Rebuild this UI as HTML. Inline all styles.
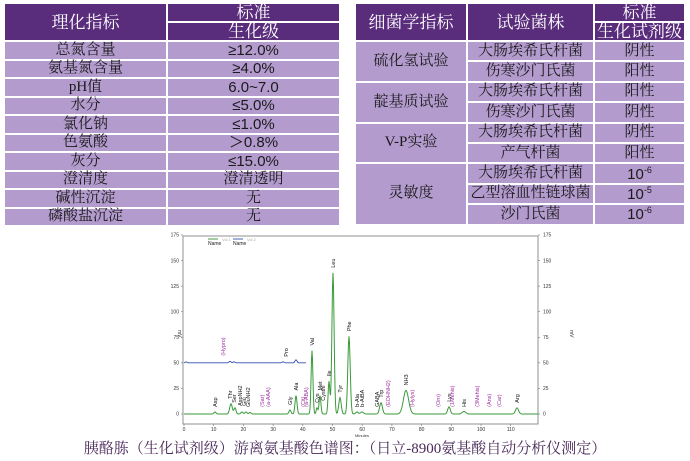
<!DOCTYPE html>
<html><head><meta charset="utf-8"><style>
body{margin:0;width:690px;height:461px;background:#fff;position:relative;overflow:hidden;font-family:"Liberation Serif","Noto Serif CJK SC",serif}
table{position:absolute;border-collapse:collapse;table-layout:fixed}
td{border:2px solid #fff;text-align:center;padding:0;color:#1a1a1a;font-size:15px;line-height:1}
td.h{background:#5a2c7c;color:#fff;font-size:17px}
td.b{background:#b49bce}
.n{font-family:"Liberation Sans","Noto Sans CJK SC",sans-serif;font-size:15px}
sup{font-size:9px;vertical-align:6px}
</style></head><body>
<table style="left:3px;top:2px;width:338px">
<colgroup><col style="width:163px"><col></colgroup>
<tr style="height:19px"><td class="h" rowspan="2">理化指标</td><td class="h">标准</td></tr>
<tr style="height:19px"><td class="h">生化级</td></tr>
<tr style="height:18.5px"><td class="b">总氮含量</td><td class="b n">≥12.0%</td></tr>
<tr style="height:18.5px"><td class="b">氨基氮含量</td><td class="b n">≥4.0%</td></tr>
<tr style="height:18.5px"><td class="b">pH值</td><td class="b n">6.0~7.0</td></tr>
<tr style="height:18.5px"><td class="b">水分</td><td class="b n">≤5.0%</td></tr>
<tr style="height:18.5px"><td class="b">氯化钠</td><td class="b n">≤1.0%</td></tr>
<tr style="height:18.5px"><td class="b">色氨酸</td><td class="b n">＞0.8%</td></tr>
<tr style="height:18.5px"><td class="b">灰分</td><td class="b n">≤15.0%</td></tr>
<tr style="height:18.5px"><td class="b">澄清度</td><td class="b">澄清透明</td></tr>
<tr style="height:18.5px"><td class="b">碱性沉淀</td><td class="b">无</td></tr>
<tr style="height:18.5px"><td class="b">磷酸盐沉淀</td><td class="b">无</td></tr>
</table>
<table style="left:354px;top:2px;width:332px">
<colgroup><col style="width:112px"><col style="width:127px"><col></colgroup>
<tr style="height:19px"><td class="h" rowspan="2">细菌学指标</td><td class="h" rowspan="2">试验菌株</td><td class="h">标准</td></tr>
<tr style="height:19px"><td class="h">生化试剂级</td></tr>
<tr style="height:20.4px"><td class="b" rowspan="2">硫化氢试验</td><td class="b">大肠埃希氏杆菌</td><td class="b">阴性</td></tr>
<tr style="height:20.4px"><td class="b">伤寒沙门氏菌</td><td class="b">阳性</td></tr>
<tr style="height:20.4px"><td class="b" rowspan="2">靛基质试验</td><td class="b">大肠埃希氏杆菌</td><td class="b">阳性</td></tr>
<tr style="height:20.4px"><td class="b">伤寒沙门氏菌</td><td class="b">阴性</td></tr>
<tr style="height:20.4px"><td class="b" rowspan="2">V-P实验</td><td class="b">大肠埃希氏杆菌</td><td class="b">阴性</td></tr>
<tr style="height:20.4px"><td class="b">产气杆菌</td><td class="b">阳性</td></tr>
<tr style="height:20.4px"><td class="b" rowspan="3">灵敏度</td><td class="b">大肠埃希氏杆菌</td><td class="b n">10<sup>-6</sup></td></tr>
<tr style="height:20.4px"><td class="b">乙型溶血性链球菌</td><td class="b n">10<sup>-5</sup></td></tr>
<tr style="height:20.4px"><td class="b">沙门氏菌</td><td class="b n">10<sup>-6</sup></td></tr>
</table>
<svg id="c" width="690" height="461" style="position:absolute;left:0;top:0" font-family="Liberation Sans,sans-serif">
<rect x="183" y="236" width="355" height="188" fill="none" stroke="#777" stroke-width="0.8"/>
<g id="ax" font-size="5" fill="#333"></g>
<line x1="208" y1="239" x2="218" y2="239" stroke="#4a9a4a"/><text x="222" y="241" font-size="4" fill="#aaa">Vol 1</text>
<text x="208" y="245" font-size="5" fill="#222">Name</text>
<line x1="233" y1="239" x2="243" y2="239" stroke="#4060b0"/><text x="247" y="241" font-size="4" fill="#aaa">Vol 2</text>
<text x="233" y="245" font-size="5" fill="#222">Name</text>
<path id="blue" fill="none" stroke="#3050b0" stroke-width="0.9"/>
<path id="green" fill="none" stroke="#3a9a3a" stroke-width="1"/>
<g id="lb" font-size="5.5"></g>
<text x="362" y="437" font-size="4" text-anchor="middle" fill="#333">Minutes</text>
<text x="178" y="330" font-size="5" fill="#333" transform="rotate(90 178 330)">mV</text>
<text x="570" y="330" font-size="5" fill="#333" transform="rotate(90 570 330)">mV</text>
<text x="345" y="453" font-size="15" text-anchor="middle" fill="#4a2a5a" font-family="Liberation Serif,Noto Serif CJK SC,serif">胰酪胨（生化试剂级）游离氨基酸色谱图：（日立-8900氨基酸自动分析仪测定）</text>
</svg>
<script>
var base=414,k=1.023;
var ax=document.getElementById('ax'),s='';
for(var v=0;v<=175;v+=25){var y=base-v*k;
s+='<line x1="181" y1="'+y+'" x2="183" y2="'+y+'" stroke="#777" stroke-width="0.6"/><text x="179" y="'+(y+1.7)+'" text-anchor="end">'+v+'</text>';
s+='<line x1="538" y1="'+y+'" x2="540" y2="'+y+'" stroke="#777" stroke-width="0.6"/><text x="543" y="'+(y+1.7)+'">'+v+'</text>';}
for(var t=0;t<=110;t+=10){var x=184+t*2.97;
s+='<line x1="'+x+'" y1="424" x2="'+x+'" y2="426" stroke="#777" stroke-width="0.6"/><text x="'+x+'" y="431" text-anchor="middle">'+t+'</text>';}
ax.innerHTML=s;
var P=[[215,2,1],[231,10,1.3],[235,6,1],[242,2,1],[246,2,1],[250,1.5,1],[290,4,1],[296,18,1],[312,62,0.9],[317,6,0.8],[320,18,0.9],[329,32,0.9],[333,138,1.1],[340,16,1.2],[349,76,1.2],[357,2,1.2],[362,2,1.5],[381,11,1.4],[406,23,2.6],[449,7,1.3],[464,2.5,1.8],[517,6,1.5]];
var d='';for(var x=184;x<=538;x+=0.5){var v=0;P.forEach(function(p){v+=p[1]*Math.exp(-Math.pow((x-p[0])/p[2],2)/2)});d+=(d?'L':'M')+x+' '+(base-v*k).toFixed(2);}
document.getElementById('green').setAttribute('d',d);
var B=[[186,1,0.8],[230,1.5,1],[234,1,1],[283,1,1],[296,3,1]];
d='';for(var x=184;x<=306;x+=0.5){var v=50;B.forEach(function(p){v+=p[1]*Math.exp(-Math.pow((x-p[0])/p[2],2)/2)});d+=(d?'L':'M')+x+' '+(base-v*k).toFixed(2);}
document.getElementById('blue').setAttribute('d',d);
var L=[[215,5,'Asp',0],[230,13,'Thr',0],[234,9,'Ser',0],[240,6,'AspNH2',0],[244,6,'Glu',0],[248,5,'GluNH2',0],[262,5,'(Sar)',1],[268,5,'(a-AAA)',1],[290,7,'Gly',0],[296,21,'Ala',0],[303,5,'(Cit)',1],[306,5,'(a-ABA)',1],[312,65,'Val',0],[317,9,'Cys',0],[320,21,'Met',0],[323,11,'Cysthi',0],[329,35,'Ile',0],[333,141,'Leu',0],[340,19,'Tyr',0],[349,79,'Phe',0],[357,5,'b-Ala',0],[362,5,'b-AiBA',0],[377,5,'GABA',0],[381,14,'Trp',0],[388,5,'(EOHNH2)',1],[406,26,'NH3',0],[412,5,'(Hylys)',1],[438,5,'(Orn)',1],[449,10,'Lys',0],[452,5,'(1Mehis)',1],[464,5,'His',0],[477,5,'(3Mehis)',1],[489,5,'(Ans)',1],[499,5,'(Car)',1],[517,9,'Arg',0],[223,55,'(Hypro)',1],[286,54,'Pro',0]];
var g='';L.forEach(function(l){var y=base-l[1]*k-2;g+='<text x="'+(l[0]+2)+'" y="'+y+'" transform="rotate(-90 '+(l[0]+2)+' '+y+')" fill="'+(l[3]?'#a030a0':'#111')+'">'+l[2]+'</text>';});
document.getElementById('lb').innerHTML=g;
</script>
</body></html>
